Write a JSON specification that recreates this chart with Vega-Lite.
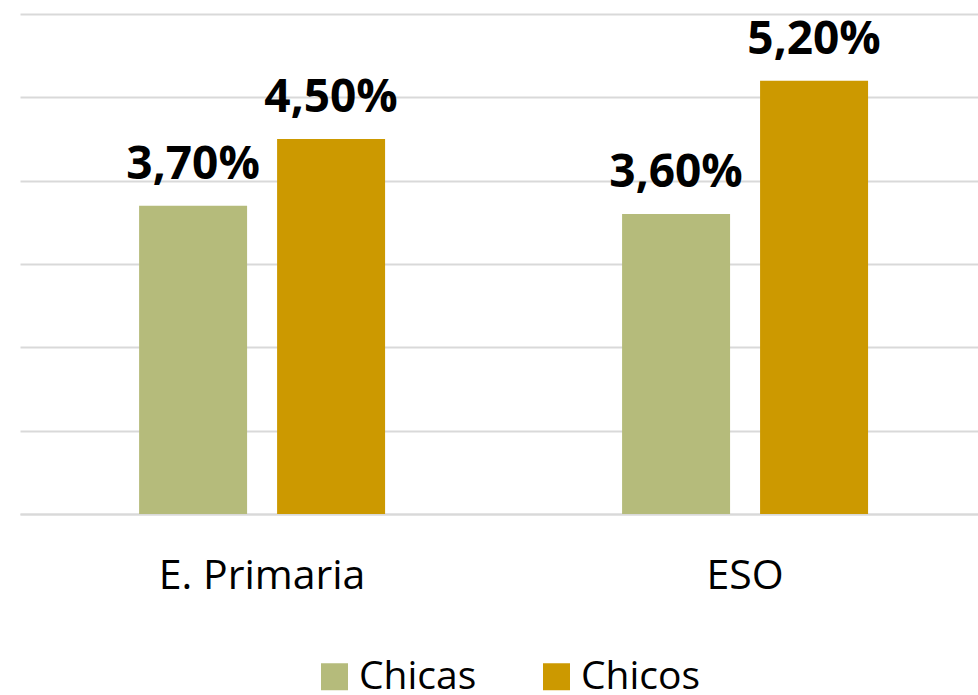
{
  "$schema": "https://vega.github.io/schema/vega-lite/v6.json",
  "width": 958,
  "height": 500,
  "autosize": {"type": "none"},
  "padding": {"left": 20, "top": 14, "right": 0, "bottom": 181},
  "config": {
    "view": {"stroke": null},
    "font": "Open Sans",
    "locale": {"number": {"decimal": ",", "thousands": ".", "grouping": [3], "currency": ["", " €"]}}
  },
  "data": {
    "values": [
      {"nivel": "E. Primaria", "sexo": "Chicas", "valor": 0.037},
      {"nivel": "E. Primaria", "sexo": "Chicos", "valor": 0.045},
      {"nivel": "ESO", "sexo": "Chicas", "valor": 0.036},
      {"nivel": "ESO", "sexo": "Chicos", "valor": 0.052}
    ]
  },
  "encoding": {
    "x": {
      "field": "nivel", "type": "nominal", "sort": ["E. Primaria", "ESO"],
      "scale": {"paddingInner": 0.4907, "paddingOuter": 0.2371, "align": 0.52},
      "axis": {"title": null, "labelAngle": 0, "labelFontSize": 41, "labelColor": "black", "labelPadding": 42, "labelLimit": 0, "ticks": false, "domainColor": "#d9d9d9", "domainWidth": 2}
    },
    "xOffset": {
      "field": "sexo", "type": "nominal", "sort": ["Chicas", "Chicos"],
      "scale": {"paddingInner": 0.2174, "paddingOuter": 0}
    },
    "y": {
      "field": "valor", "type": "quantitative",
      "scale": {"domain": [0, 0.06]},
      "axis": {"title": null, "labels": false, "ticks": false, "domain": false, "values": [0, 0.01, 0.02, 0.03, 0.04, 0.05, 0.06], "gridColor": "#d9d9d9", "gridWidth": 2}
    }
  },
  "layer": [
    {
      "mark": {"type": "bar"},
      "encoding": {
        "color": {
          "field": "sexo", "type": "nominal",
          "scale": {"domain": ["Chicas", "Chicos"], "range": ["#B5BB7B", "#CC9900"]},
          "legend": {"orient": "none", "legendX": 295, "legendY": 643, "direction": "horizontal", "title": null, "labelFontSize": 39, "labelColor": "black", "labelLimit": 0, "symbolType": "square", "symbolSize": 729, "symbolStrokeWidth": 0, "labelOffset": 5, "columnPadding": 60}
        }
      }
    },
    {
      "mark": {"type": "text", "dy": -27, "baseline": "alphabetic", "fontSize": 46, "fontWeight": "bold", "color": "black"},
      "encoding": {
        "text": {"field": "valor", "type": "quantitative", "format": ".2%"}
      }
    }
  ]
}
